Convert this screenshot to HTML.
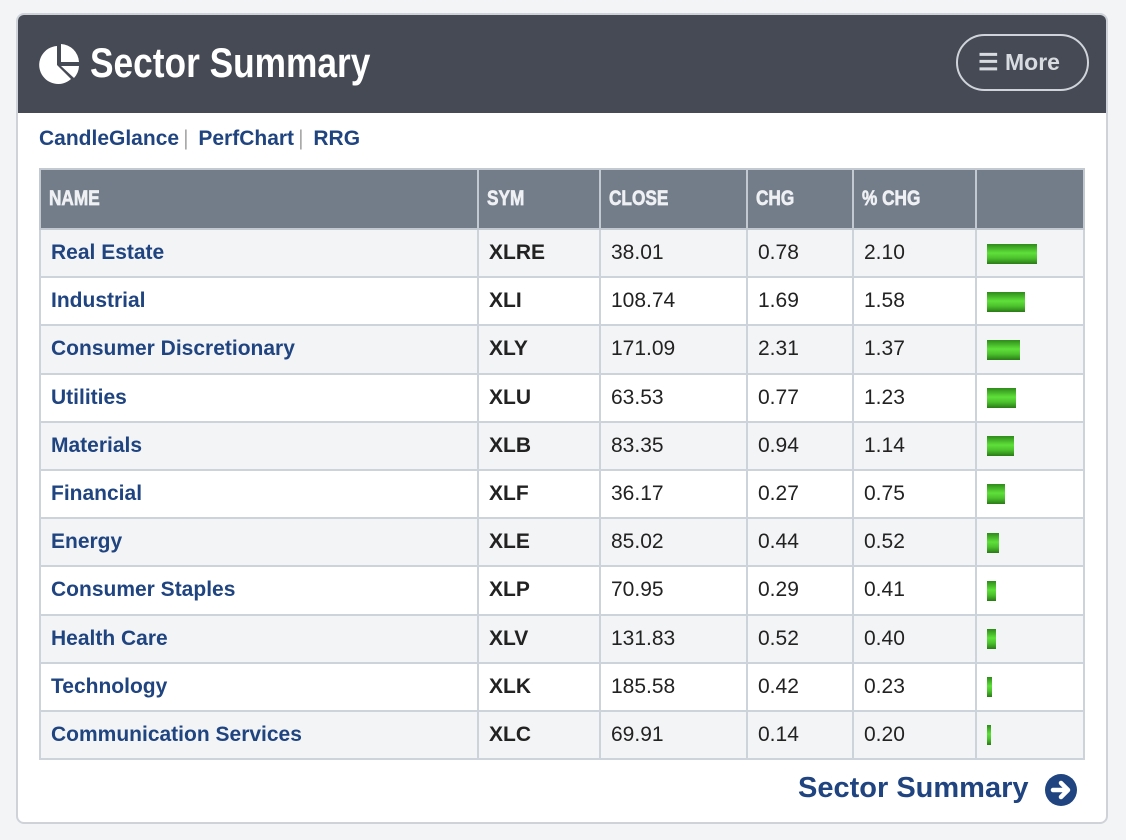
<!DOCTYPE html>
<html><head><meta charset="utf-8"><style>
*{box-sizing:border-box;margin:0;padding:0}
body{width:1126px;height:840px;background:#f3f4f6;font-family:"Liberation Sans",sans-serif;position:relative;overflow:hidden}
.panel{position:absolute;left:16px;top:13px;width:1092px;height:811px;background:#fff;border:2px solid #cfd3d9;border-radius:8px;overflow:hidden}
.head{position:absolute;left:0;top:0;width:100%;height:98px;background:#454a54}
.title{position:absolute;left:72px;top:24px;color:#fff;font-weight:bold;font-size:42px;transform:scaleX(0.84);transform-origin:left;white-space:nowrap}
.more{position:absolute;left:938px;top:19px;width:133px;height:57px;border:2px solid #d0d4da;border-radius:29px;color:#d8dbe0;font-weight:bold;font-size:23px;line-height:53px;padding-left:20px}
.links{position:absolute;left:21px;top:112px;font-size:21px;font-weight:bold;color:#1f4480}
.links span{color:#aaa;font-weight:normal;margin:0 4px}
table{position:absolute;left:21px;top:153px;border-collapse:collapse;table-layout:fixed;width:1044px}
td,th{border:2px solid #cdd3db;height:48.2px;padding-left:10px;font-size:21px;text-align:left;color:#222}
th{background:#737d8a;color:#eef0f3;height:60px;font-weight:700;border-color:#c3c9d1;padding-left:8px}
th span{display:inline-block;transform:scaleX(0.82);transform-origin:left;white-space:nowrap;font-weight:700;-webkit-text-stroke:0.7px #eef0f3}
tr:nth-child(even) td{background:#f3f4f6}
td.n{color:#1f4480;font-weight:bold}
td.s{font-weight:bold}
.bar{display:inline-block;height:20px;vertical-align:middle;background:linear-gradient(#2e8a1a,#5fe03a 45%,#4cc22d 70%,#2a7a15)}
.foot{position:absolute;left:780px;top:757px;font-size:29px;font-weight:bold;color:#1f4480}
</style></head><body>
<div class="panel">
<div class="head">
<svg style="position:absolute;left:20px;top:27px" width="44" height="44" viewBox="0 0 44 44">
<path d="M19 4 A19 19 0 1 0 33 37 L19 23 Z" fill="#fff"/>
<path d="M23 2 A19 19 0 0 1 41 20 L23 20 Z" fill="#fff"/>
<path d="M23 24 L41 24 A19 19 0 0 1 36 36 Z" fill="#fff"/>
</svg>
<div class="title">Sector Summary</div>
<div class="more">☰ More</div>
</div>
<div class="links">CandleGlance<span>|</span> PerfChart<span>|</span> RRG</div>
<table>
<colgroup><col style="width:438px"><col style="width:122px"><col style="width:147px"><col style="width:106px"><col style="width:123px"><col style="width:108px"></colgroup>
<tr><th><span>NAME</span></th><th><span>SYM</span></th><th><span>CLOSE</span></th><th><span>CHG</span></th><th><span>% CHG</span></th><th></th></tr>
<tr><td class="n">Real Estate</td><td class="s">XLRE</td><td>38.01</td><td>0.78</td><td>2.10</td><td><span class="bar" style="width:50px"></span></td></tr>
<tr><td class="n">Industrial</td><td class="s">XLI</td><td>108.74</td><td>1.69</td><td>1.58</td><td><span class="bar" style="width:38px"></span></td></tr>
<tr><td class="n">Consumer Discretionary</td><td class="s">XLY</td><td>171.09</td><td>2.31</td><td>1.37</td><td><span class="bar" style="width:33px"></span></td></tr>
<tr><td class="n">Utilities</td><td class="s">XLU</td><td>63.53</td><td>0.77</td><td>1.23</td><td><span class="bar" style="width:29px"></span></td></tr>
<tr><td class="n">Materials</td><td class="s">XLB</td><td>83.35</td><td>0.94</td><td>1.14</td><td><span class="bar" style="width:27px"></span></td></tr>
<tr><td class="n">Financial</td><td class="s">XLF</td><td>36.17</td><td>0.27</td><td>0.75</td><td><span class="bar" style="width:18px"></span></td></tr>
<tr><td class="n">Energy</td><td class="s">XLE</td><td>85.02</td><td>0.44</td><td>0.52</td><td><span class="bar" style="width:12px"></span></td></tr>
<tr><td class="n">Consumer Staples</td><td class="s">XLP</td><td>70.95</td><td>0.29</td><td>0.41</td><td><span class="bar" style="width:9px"></span></td></tr>
<tr><td class="n">Health Care</td><td class="s">XLV</td><td>131.83</td><td>0.52</td><td>0.40</td><td><span class="bar" style="width:9px"></span></td></tr>
<tr><td class="n">Technology</td><td class="s">XLK</td><td>185.58</td><td>0.42</td><td>0.23</td><td><span class="bar" style="width:5px"></span></td></tr>
<tr><td class="n">Communication Services</td><td class="s">XLC</td><td>69.91</td><td>0.14</td><td>0.20</td><td><span class="bar" style="width:4px"></span></td></tr>
</table>
<div class="foot">Sector Summary</div>
<svg style="position:absolute;left:1027px;top:759px" width="32" height="32" viewBox="0 0 32 32">
<circle cx="16" cy="16" r="16" fill="#1f4480"/>
<path d="M8 16 H22 M16 9 L23 16 L16 23" stroke="#fff" stroke-width="4.5" fill="none" stroke-linecap="round" stroke-linejoin="round"/>
</svg>
</div>
</body></html>
